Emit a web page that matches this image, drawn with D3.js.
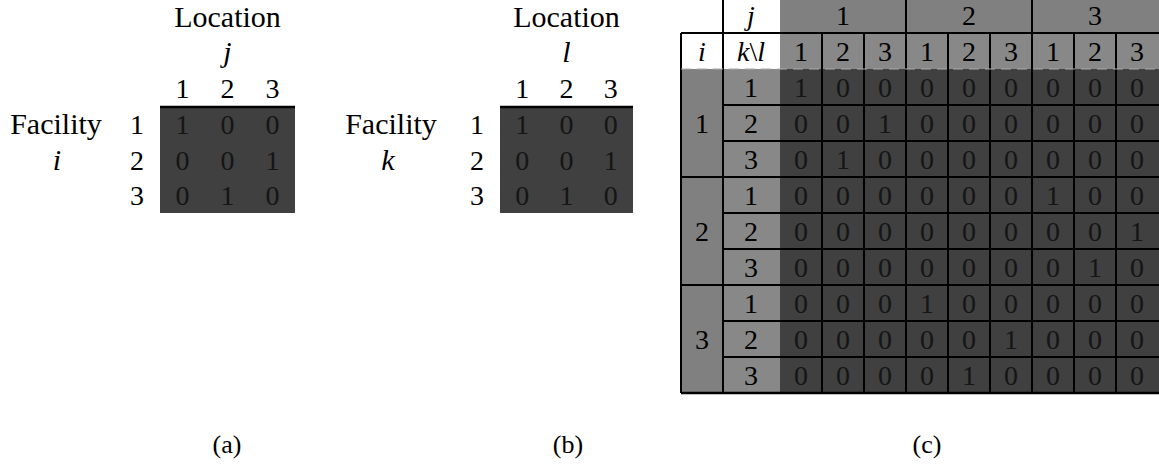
<!DOCTYPE html>
<html>
<head>
<meta charset="utf-8">
<script src="https://cdn.jsdelivr.net/npm/d3@7"></script>
<style>
  body { margin: 0; background: #fff; }
  svg text, svg tspan { font-family: "Liberation Serif", "Times New Roman", serif !important; }
</style>
</head>
<body>
<svg id="chart"></svg>
<script>
// assignment matrices
var idx = ["1", "2", "3"];
var matA = [[1, 0, 0], [0, 0, 1], [0, 1, 0]];
var matB = [[1, 0, 0], [0, 0, 1], [0, 1, 0]];
// rows = (i,k), cols = (j,l)
var matC = [
  [1, 0, 0, 0, 0, 0, 0, 0, 0],
  [0, 0, 1, 0, 0, 0, 0, 0, 0],
  [0, 1, 0, 0, 0, 0, 0, 0, 0],
  [0, 0, 0, 0, 0, 0, 1, 0, 0],
  [0, 0, 0, 0, 0, 0, 0, 0, 1],
  [0, 0, 0, 0, 0, 0, 0, 1, 0],
  [0, 0, 0, 1, 0, 0, 0, 0, 0],
  [0, 0, 0, 0, 0, 1, 0, 0, 0],
  [0, 0, 0, 0, 1, 0, 0, 0, 0]
];
var captions = ["(a)", "(b)", "(c)"];

var W = 1159, H = 467;
var FF = "Liberation Serif";
var svg = d3.select("#chart").attr("width", W).attr("height", H).attr("font-family", FF);
svg.append("rect").attr("width", W).attr("height", H).attr("fill", "#fff");

var dark = "#404040", gray1 = "#808080", gray2 = "#888888", ink = "#151515";
var fs = 28;

function txt(g, x, y, s, size) {
  return g.append("text").attr("x", x).attr("y", y).attr("text-anchor", "middle")
    .attr("font-family", FF).style("font-family", FF).attr("font-size", size || fs).text(s);
}

function smallMatrix(mat, x0, x1, colVar, rowVar, facX, varX, rowLabX) {
  var x = d3.scaleBand().domain(idx).range([x0, x1]);
  var y = d3.scaleBand().domain(idx).range([106, 213]);
  var g = svg.append("g");
  var cx = (x0 + x1) / 2;

  txt(g, cx, 27, "Location", 30);
  txt(g, cx, 62, colVar, 30).attr("font-style", "italic");
  idx.forEach(function(d){ txt(g, x(d) + x.bandwidth()/2, 98, d); });

  txt(g, facX, 134, "Facility", 30);
  txt(g, varX, 170, rowVar, 30).attr("font-style", "italic");
  idx.forEach(function(d){ txt(g, rowLabX, y(d) + y.bandwidth()/2 + 10, d); });

  g.append("rect").attr("x", x0).attr("y", 106).attr("width", x1 - x0).attr("height", 213 - 106)
    .attr("fill", dark);
  g.append("line").attr("x1", x0).attr("x2", x1).attr("y1", 107).attr("y2", 107)
    .attr("stroke", "#000").attr("stroke-width", 2.5);

  mat.forEach(function(row, r) {
    row.forEach(function(v, c) {
      txt(g, x(idx[c]) + x.bandwidth()/2, y(idx[r]) + y.bandwidth()/2 + 10, v).attr("fill", ink);
    });
  });
}

smallMatrix(matA, 160, 295, "j", "i", 56, 57, 137);
smallMatrix(matB, 500, 633, "l", "k", 391, 388, 477);

// table (c)
var cols = [];
idx.forEach(function(j){ idx.forEach(function(l){ cols.push(j + "-" + l); }); });
var xC = d3.scaleBand().domain(cols).range([780, 1158]);
var yC = d3.scaleBand().domain(cols).range([69, 393]);
var cw = xC.bandwidth(), rh = yC.bandwidth();
var gc = svg.append("g");

// backgrounds
gc.append("rect").attr("x", 780).attr("y", 0).attr("width", 379).attr("height", 33).attr("fill", gray1);
gc.append("rect").attr("x", 780).attr("y", 33).attr("width", 379).attr("height", 36).attr("fill", gray2);
gc.append("rect").attr("x", 681).attr("y", 69).attr("width", 42).attr("height", 324).attr("fill", gray1);
gc.append("rect").attr("x", 723).attr("y", 69).attr("width", 57).attr("height", 324).attr("fill", gray2);
gc.append("rect").attr("x", 780).attr("y", 69).attr("width", 379).attr("height", 324).attr("fill", dark);

// header texts
txt(gc, 751, 25, "j").attr("font-style", "italic");
txt(gc, 702, 61, "i").attr("font-style", "italic");
var kl = txt(gc, 751, 61, "");
kl.append("tspan").attr("font-style", "italic").text("k");
kl.append("tspan").text("\\");
kl.append("tspan").attr("font-style", "italic").text("l");

idx.forEach(function(d){ txt(gc, xC(d + "-2") + cw/2, 25, d); });
cols.forEach(function(d){ txt(gc, xC(d) + cw/2, 61, d.split("-")[1]); });
idx.forEach(function(d){ txt(gc, 702, yC(d + "-2") + rh/2 + 10, d); });
cols.forEach(function(d){ txt(gc, 751, yC(d) + rh/2 + 10, d.split("-")[1]); });

matC.forEach(function(row, r) {
  row.forEach(function(v, c) {
    txt(gc, xC(cols[c]) + cw/2, yC(cols[r]) + rh/2 + 10, v).attr("fill", ink);
  });
});

// grid lines
var ln = function(x1, y1, x2, y2, w) {
  gc.append("line").attr("x1", x1).attr("y1", y1).attr("x2", x2).attr("y2", y2)
    .attr("stroke", "#000").attr("stroke-width", w || 2);
};
ln(723, 0, 723, 393);
ln(681, 33, 1159, 33);
ln(681, 33, 681, 393);
ln(681, 393, 1159, 393, 2.5);
cols.forEach(function(d, c) {
  if (c > 0) ln(xC(d), c % 3 === 0 ? 0 : 33, xC(d), 393);
  if (c > 0) ln(c % 3 === 0 ? 681 : 723, yC(d), 1159, yC(d));
});
// faint header/body separator
gc.append("line").attr("x1", 681).attr("x2", 1159).attr("y1", 69).attr("y2", 69)
  .attr("stroke", "#aaa").attr("stroke-width", 1).attr("stroke-dasharray", "10,6");

// captions
captions.forEach(function(d, i){ txt(svg, [227, 568, 927][i], 453, d, 26); });
</script>
</body>
</html>
